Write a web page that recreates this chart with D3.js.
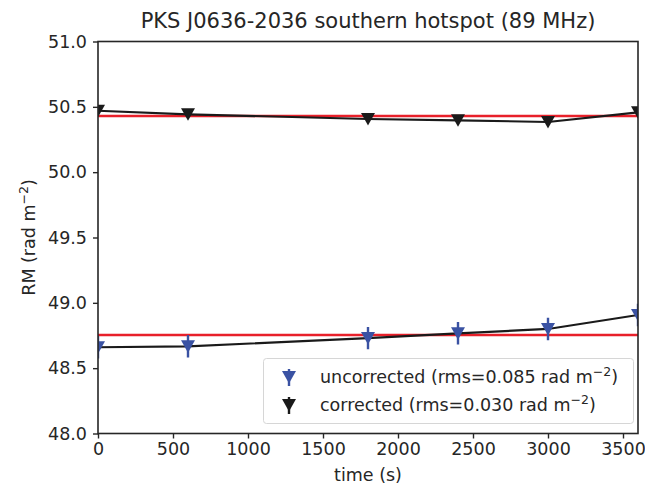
<!DOCTYPE html>
<html>
<head>
<meta charset="utf-8">
<script src="https://cdn.jsdelivr.net/npm/d3@7"></script>
<style>
  body { margin: 0; background: #fff; }
  text { font-family: "DejaVu Sans", sans-serif; fill: #262626; }
</style>
</head>
<body>
<div id="container"></div>
<script>
// data
let times = [0, 600, 1800, 2400, 3000, 3600];
let uncorrected = [48.66, 48.667, 48.73, 48.767, 48.80, 48.907];
let uncorrectedErr = [0.086, 0.086, 0.086, 0.086, 0.086, 0.086];
let corrected = [50.47, 50.443, 50.407, 50.397, 50.384, 50.458];
let correctedErr = [0.02, 0.02, 0.02, 0.02, 0.02, 0.02];
let meanLines = [48.754, 50.43];
let xTicks = [0, 500, 1000, 1500, 2000, 2500, 3000, 3500];
let yTicks = [48.0, 48.5, 49.0, 49.5, 50.0, 50.5, 51.0];
let legendLabels = ["uncorrected (rms=0.085 rad m", "corrected (rms=0.030 rad m"];

let w = 645;
let h = 485;
let padL = 98, padR = 638, padT = 41.5, padB = 433.5;

let blue = "#3a52a3";
let black = "#1a1a1a";
let red = "#e8202a";
let fs = 17.5;

let viz = d3.select("#container")
  .append("svg")
    .attr("width", w)
    .attr("height", h)
;

let xScale = d3.scaleLinear().domain([0, 3600]).range([padL, padR]);
let yScale = d3.scaleLinear().domain([48, 51]).range([padB, padT]);

viz.append("defs").append("clipPath").attr("id", "clip")
  .append("rect")
    .attr("x", padL).attr("y", padT)
    .attr("width", padR - padL).attr("height", padB - padT);

let plot = viz.append("g").attr("clip-path", "url(#clip)");

// mean lines
plot.selectAll(".mean").data(meanLines).enter().append("line")
  .attr("x1", padL).attr("x2", padR)
  .attr("y1", d => yScale(d)).attr("y2", d => yScale(d))
  .attr("stroke", red).attr("stroke-width", 2.4);

let lineMaker = d3.line()
  .x(d => xScale(d.t))
  .y(d => yScale(d.v));

let tri = "M-7,-6L7,-6L0,6.5Z";

function series(vals, errs, color){
  let pts = times.map((t, i) => ({t: t, v: vals[i], e: errs[i]}));
  plot.append("path").datum(pts)
    .attr("d", lineMaker)
    .attr("fill", "none")
    .attr("stroke", black)
    .attr("stroke-width", 2.2);
  plot.selectAll(null).data(pts).enter().append("line")
    .attr("x1", d => xScale(d.t)).attr("x2", d => xScale(d.t))
    .attr("y1", d => yScale(d.v - d.e)).attr("y2", d => yScale(d.v + d.e))
    .attr("stroke", color).attr("stroke-width", 2.4);
  plot.selectAll(null).data(pts).enter().append("path")
    .attr("d", tri)
    .attr("transform", d => "translate(" + xScale(d.t) + "," + yScale(d.v) + ")")
    .attr("fill", color);
}
series(uncorrected, uncorrectedErr, blue);
series(corrected, correctedErr, black);

// axes
let xAxis = d3.axisBottom(xScale).tickValues(xTicks).tickFormat(d3.format("d")).tickSize(5).tickPadding(4);
let yAxis = d3.axisLeft(yScale).tickValues(yTicks).tickFormat(d3.format(".1f")).tickSize(5).tickPadding(6);

let xg = viz.append("g").attr("transform", "translate(0," + padB + ")").call(xAxis);
let yg = viz.append("g").attr("transform", "translate(" + padL + ",0)").call(yAxis);
[xg, yg].forEach(g => {
  g.select(".domain").remove();
  g.selectAll(".tick line").attr("stroke", "#262626").attr("stroke-width", 1.4);
  g.selectAll(".tick text").style("font-size", fs + "px").style("font-family", "DejaVu Sans").attr("fill", "#262626");
});

viz.append("rect")
  .attr("x", padL).attr("y", padT)
  .attr("width", padR - padL).attr("height", padB - padT)
  .attr("fill", "none").attr("stroke", "#262626").attr("stroke-width", 1.6);

// labels
viz.append("text")
  .attr("x", (padL + padR) / 2).attr("y", 28)
  .attr("text-anchor", "middle").style("font-size", "21px")
  .text("PKS J0636-2036 southern hotspot (89 MHz)");

viz.append("text")
  .attr("x", (padL + padR) / 2).attr("y", 481)
  .attr("text-anchor", "middle").style("font-size", fs + "px")
  .text("time (s)");

let yl = viz.append("text")
  .attr("transform", "translate(35," + ((padT + padB) / 2) + ") rotate(-90)")
  .attr("text-anchor", "middle").style("font-size", fs + "px");
yl.append("tspan").text("RM (rad m");
yl.append("tspan").attr("dy", -7).style("font-size", "12.5px").text("\u22122");
yl.append("tspan").attr("dy", 7).text(")");

// legend
let lg = viz.append("g");
lg.append("rect")
  .attr("x", 263.5).attr("y", 358.5).attr("width", 370).attr("height", 65)
  .attr("rx", 3)
  .attr("fill", "#fff").attr("fill-opacity", 0.85)
  .attr("stroke", "#d6d6d6").attr("stroke-width", 1);
[blue, black].forEach((c, i) => {
  let cy = 377 + i * 28;
  lg.append("line").attr("x1", 289).attr("x2", 289)
    .attr("y1", cy - 8).attr("y2", cy + 9).attr("stroke", c).attr("stroke-width", 2.4);
  lg.append("path").attr("d", tri)
    .attr("transform", "translate(289," + cy + ")").attr("fill", c);
  let t = lg.append("text").attr("x", 320).attr("y", cy + 6).style("font-size", fs + "px");
  t.append("tspan").text(legendLabels[i]);
  t.append("tspan").attr("dy", -7).style("font-size", "12.5px").text("\u22122");
  t.append("tspan").attr("dy", 7).text(")");
});
</script>
</body>
</html>
